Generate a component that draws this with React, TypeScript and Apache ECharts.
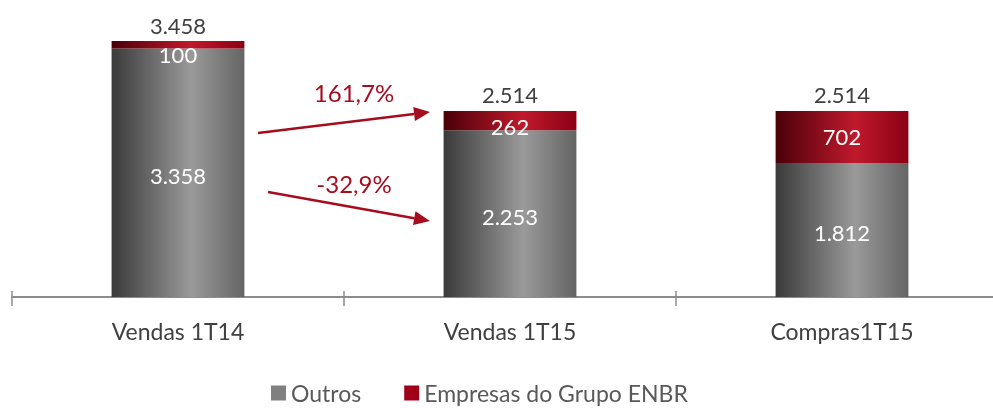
import React, { useEffect, useRef } from "react";
import * as echarts from "echarts";

const categories = ["Vendas 1T14", "Vendas 1T15", "Compras1T15"];
const outros = [3358, 2253, 1812];
const grupoENBR = [100, 262, 702];
const totals = [3458, 2514, 2514];
const seriesNames = ["Outros", "Empresas do Grupo ENBR"];
const growthLabels = ["161,7%", "-32,9%"];

const FONT = "Lato, 'Open Sans', sans-serif";
const fmt = (v: number) => v.toLocaleString("de-DE");

const grayGrad = new echarts.graphic.LinearGradient(0, 0, 1, 0, [
  { offset: 0, color: "#3a3a3a" },
  { offset: 0.6, color: "#9a9a9a" },
  { offset: 1, color: "#646464" },
]);
const redGrad = new echarts.graphic.LinearGradient(0, 0, 1, 0, [
  { offset: 0, color: "#4a0008" },
  { offset: 0.6, color: "#c0192c" },
  { offset: 1, color: "#8c0014" },
]);

const redLabelOffsets = [[0, 10], [0, 6], [0, 0]];

export default function App() {
  const ref = useRef<HTMLDivElement>(null);
  useEffect(() => {
    if (!ref.current) return;
    const chart = echarts.init(ref.current, undefined, { renderer: "svg" });
    const arrowColor = "#a50d1e";
    const arrow = (x1: number, y1: number, x2: number, y2: number) => {
      const ang = Math.atan2(y2 - y1, x2 - x1);
      const L = 16, W = 7;
      const bx = x2 - L * Math.cos(ang), by = y2 - L * Math.sin(ang);
      const px = -Math.sin(ang) * W, py = Math.cos(ang) * W;
      return [
        {
          type: "line",
          shape: { x1, y1, x2: bx, y2: by },
          style: { stroke: arrowColor, lineWidth: 2.5 },
        },
        {
          type: "polygon",
          shape: { points: [[x2, y2], [bx + px, by + py], [bx - px, by - py]] },
          style: { fill: arrowColor },
        },
      ];
    };
    chart.setOption({
      animation: false,
      textStyle: { fontFamily: FONT },
      grid: { left: 12, width: 996, top: 1, height: 296, containLabel: false },
      legend: {
        data: [
          { name: seriesNames[0], itemStyle: { color: "#808080" } },
          { name: seriesNames[1], itemStyle: { color: "#a00018" } },
        ],
        icon: "rect",
        left: 271,
        top: 381,
        padding: 0,
        itemWidth: 15,
        itemHeight: 15,
        itemGap: 43,
        textStyle: { fontFamily: FONT, fontSize: 23, lineHeight: 24, color: "#595959" },
      },
      xAxis: [
        {
          type: "category",
          data: categories,
          axisLine: { lineStyle: { color: "#8c8c8c", width: 2 } },
          axisTick: { show: true, length: 9, lineStyle: { color: "#8c8c8c", width: 1.5 } },
          axisLabel: { fontFamily: FONT, fontSize: 23, color: "#404040", margin: 22 },
        },
        {
          type: "category",
          data: categories,
          position: "bottom",
          axisLine: { show: false },
          axisTick: { show: true, inside: true, length: 6, lineStyle: { color: "#8c8c8c", width: 1.5 } },
          axisLabel: { show: false },
        },
      ],
      yAxis: { type: "value", min: 0, max: 4000, show: false, splitLine: { show: false } },
      series: [
        {
          name: seriesNames[0],
          type: "bar",
          stack: "t",
          barWidth: "40%",
          data: outros,
          itemStyle: { color: grayGrad },
          label: {
            show: true,
            position: "inside",
            offset: [0, 3],
            color: "#ffffff",
            fontFamily: FONT,
            fontSize: 22,
            formatter: (p: any) => fmt(p.value),
          },
        },
        {
          name: seriesNames[1],
          type: "bar",
          stack: "t",
          data: grupoENBR.map((v, i) => ({
            value: v,
            label: { offset: redLabelOffsets[i] },
          })),
          itemStyle: { color: redGrad },
          label: {
            show: true,
            position: "inside",
            color: "#ffffff",
            fontFamily: FONT,
            fontSize: 22,
            formatter: (p: any) => fmt(p.value),
          },
        },
        {
          name: "total",
          type: "bar",
          stack: "t",
          data: totals.map(() => 0),
          itemStyle: { color: "transparent" },
          label: {
            show: true,
            position: "top",
            distance: 5,
            color: "#404040",
            fontFamily: FONT,
            fontSize: 22,
            formatter: (p: any) => fmt(totals[p.dataIndex]),
          },
        },
      ],
      graphic: [
        ...arrow(258, 133, 430, 112),
        ...arrow(268, 192, 430, 221),
        {
          type: "text",
          x: 354,
          y: 92,
          style: {
            text: growthLabels[0],
            fill: arrowColor,
            font: `24px ${FONT}`,
            textAlign: "center",
            textVerticalAlign: "middle",
          },
        },
        {
          type: "text",
          x: 354,
          y: 183,
          style: {
            text: growthLabels[1],
            fill: arrowColor,
            font: `24px ${FONT}`,
            textAlign: "center",
            textVerticalAlign: "middle",
          },
        },
      ],
    });
    return () => chart.dispose();
  }, []);
  return (
    <div style={{ position: "fixed", left: 0, top: 0, width: 993, height: 408, overflow: "hidden" }}>
      <div ref={ref} style={{ width: 1012, height: 408 }} />
    </div>
  );
}
